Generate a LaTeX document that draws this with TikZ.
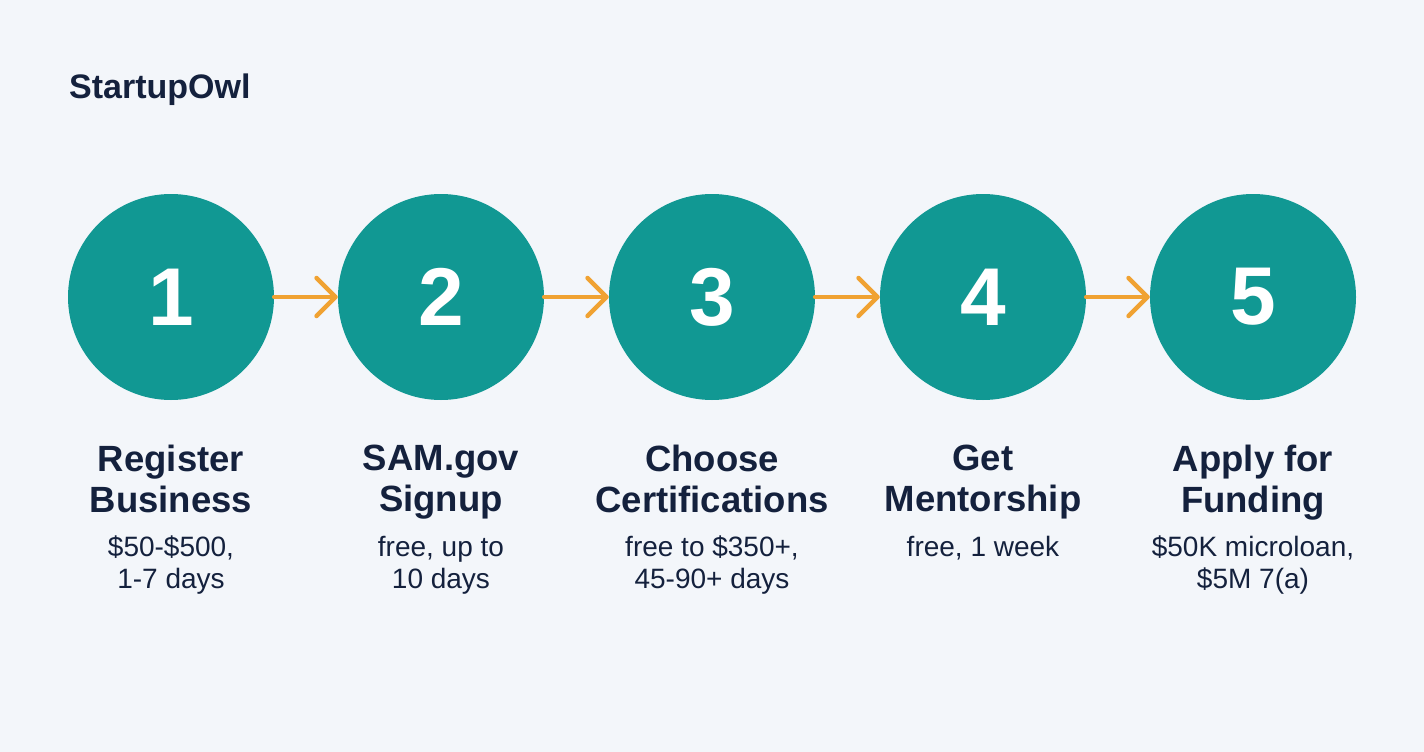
\documentclass[tikz,border=0pt]{standalone}
\usepackage{fontspec}
\setmainfont{Liberation Sans}
\usetikzlibrary{arrows.meta}
\definecolor{bgc}{HTML}{F3F6FA}
\definecolor{teal1}{HTML}{119893}
\definecolor{navy}{HTML}{14213D}
\definecolor{orng}{HTML}{F0A232}
\tikzset{
  stepcircle/.style={circle, fill=teal1, minimum size=206pt, inner sep=0pt, text=white, font=\fontsize{82}{82}\selectfont\bfseries},
  conn/.style={draw=orng, line width=4.5pt, line cap=round, -{Straight Barb[length=19pt,width=38pt,round]}},
  ttl/.style={anchor=north, inner sep=0pt, align=center, text=navy, font=\fontsize{36.5}{41}\selectfont\bfseries},
  sub/.style={anchor=north, inner sep=0pt, align=center, text=navy, font=\fontsize{28}{32}\selectfont},
  logo/.style={anchor=base west, inner sep=0pt, text=navy, font=\fontsize{34}{34}\selectfont\bfseries}
}
\begin{document}
\begin{tikzpicture}[x=1pt,y=-1pt]
\useasboundingbox (0,0) rectangle (1424,752);
\fill[bgc] (0,0) rectangle (1424,752);
\node[logo] (logo) at (69,98) {StartupOwl};
\node[stepcircle] (c1) at (171,297) {1};
\node[stepcircle] (c2) at (441,297) {2};
\node[stepcircle] (c3) at (712,297) {3};
\node[stepcircle] (c4) at (983,297) {4};
\node[stepcircle] (c5) at (1253,297) {5};
\draw[conn] (c1.east) -- (c2.west);
\draw[conn] (c2.east) -- (c3.west);
\draw[conn] (c3.east) -- (c4.west);
\draw[conn] (c4.east) -- (c5.west);
\node[ttl] (t1) at (171,445) {Register\\Business};
\node[ttl] (t2) at (441,445) {SAM.gov\\Signup};
\node[ttl] (t3) at (712,445) {Choose\\Certifications};
\node[ttl] (t4) at (983,445) {Get\\Mentorship};
\node[ttl] (t5) at (1253,445) {Apply for\\Funding};
\node[sub] (s1) at (171,536) {\$50-\$500,\\1-7 days};
\node[sub] (s2) at (441,536) {free, up to\\10 days};
\node[sub] (s3) at (712,536) {free to \$350+,\\45-90+ days};
\node[sub] (s4) at (983,536) {free, 1 week};
\node[sub] (s5) at (1253,536) {\$50K microloan,\\\$5M 7(a)};
\end{tikzpicture}
\end{document}
